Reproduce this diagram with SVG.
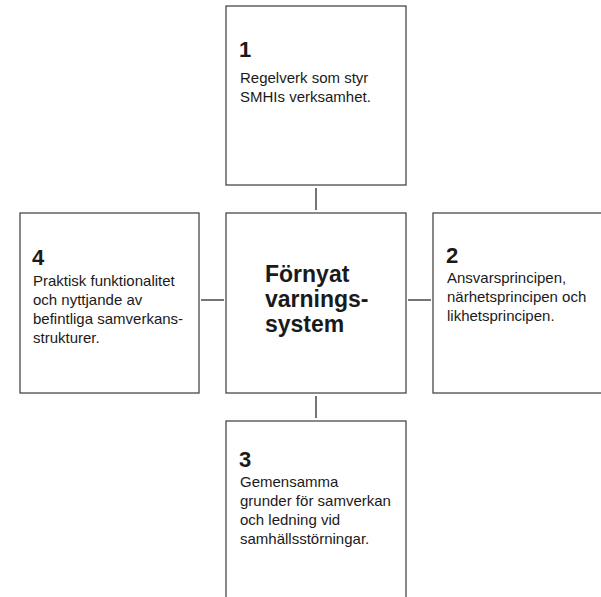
<svg xmlns="http://www.w3.org/2000/svg" width="601" height="597" viewBox="0 0 601 597">
  <style>
    .box { fill: #ffffff; stroke: #3a3a3a; stroke-width: 1.2; }
    .conn { stroke: #2a2a2a; stroke-width: 1.3; fill: none; }
    .num { font-family: "Liberation Sans", Arial, sans-serif; font-size: 22px; font-weight: bold; fill: #1a1a1a; }
    .txt { font-family: "Liberation Sans", Arial, sans-serif; font-size: 15px; fill: #1a1a1a; }
    .title { font-family: "Liberation Sans", Arial, sans-serif; font-size: 23px; font-weight: bold; fill: #1a1a1a; }
  </style>
  <rect x="0" y="0" width="601" height="597" fill="#ffffff"/>
  <g id="connectors">
    <line class="conn" x1="316" y1="188" x2="316" y2="210"/>
    <line class="conn" x1="316" y1="396" x2="316" y2="418"/>
    <line class="conn" x1="201" y1="300" x2="224" y2="300"/>
    <line class="conn" x1="408" y1="300" x2="431" y2="300"/>
  </g>
  <g id="node-1">
    <rect class="box" x="226" y="6" width="180" height="179"/>
    <text class="num" x="239" y="57">1</text>
    <text class="txt" x="240" y="83">Regelverk som styr</text>
    <text class="txt" x="240" y="102">SMHIs verksamhet.</text>
  </g>
  <g id="node-center">
    <rect class="box" x="226" y="213" width="180" height="180"/>
    <text class="title" x="265" y="282">Förnyat</text>
    <text class="title" x="265" y="307">varnings-</text>
    <text class="title" x="265" y="332">system</text>
  </g>
  <g id="node-4">
    <rect class="box" x="20" y="213" width="179" height="180"/>
    <text class="num" x="32" y="265">4</text>
    <text class="txt" x="33" y="286">Praktisk funktionalitet</text>
    <text class="txt" x="33" y="305">och nyttjande av</text>
    <text class="txt" x="33" y="324">befintliga samverkans-</text>
    <text class="txt" x="33" y="343">strukturer.</text>
  </g>
  <g id="node-2">
    <rect class="box" x="433" y="213" width="200" height="180"/>
    <text class="num" x="446" y="263">2</text>
    <text class="txt" x="447" y="283">Ansvarsprincipen,</text>
    <text class="txt" x="447" y="302">närhetsprincipen och</text>
    <text class="txt" x="447" y="321">likhetsprincipen.</text>
  </g>
  <g id="node-3">
    <rect class="box" x="226" y="421" width="180" height="200"/>
    <text class="num" x="239" y="467">3</text>
    <text class="txt" x="240" y="487">Gemensamma</text>
    <text class="txt" x="240" y="506">grunder för samverkan</text>
    <text class="txt" x="240" y="525">och ledning vid</text>
    <text class="txt" x="240" y="544">samhällsstörningar.</text>
  </g>
</svg>
